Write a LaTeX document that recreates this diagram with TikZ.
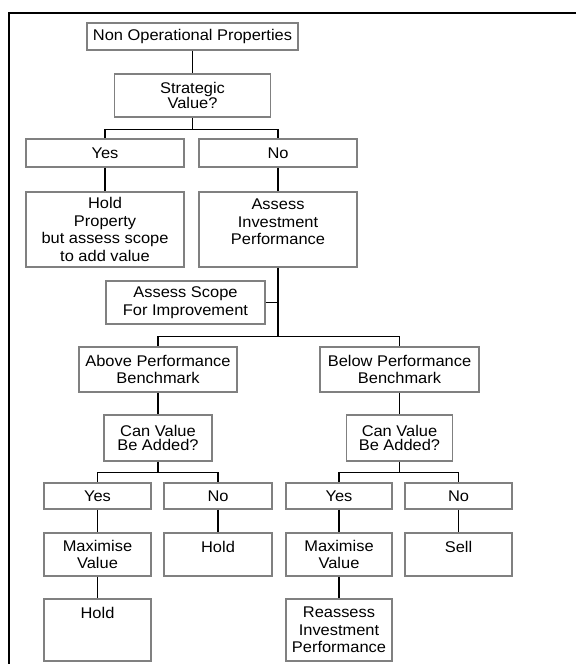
\documentclass[tikz,border=0pt]{standalone}
\usepackage{fontspec}
\setmainfont{Liberation Sans}[FakeStretch=1.06]
\usepackage{xcolor}
\definecolor{BG}{RGB}{128,128,128}

\begin{document}
\begin{tikzpicture}[x=1pt, y=-1pt,
  bx/.style 2 args={draw=BG, line width=1.2pt, inner sep=0pt, align=center,
    minimum width=#1, minimum height=#2,
    font=\fontsize{15.5}{17.5}\selectfont},
  tp/.style 2 args={text height=#1, text depth=#2},
  tight/.style={font=\fontsize{15.5}{14.5}\selectfont},
  ln/.style={draw=black, line width=1.2pt}
]
\useasboundingbox (0,0) rectangle (576,664);
\draw[line width=2pt] (576,13) -- (9,13) -- (9,664);

\node[bx={211}{27}] (nop) at (192.5,36.5) {Non Operational Properties};
\node[bx={156}{43}, tight] (sv) at (192.5,95.5) {Strategic\\Value?};
\node[bx={158}{28}] (yes1) at (105,153) {Yes};
\node[bx={158}{28}] (no1) at (278,153) {No};
\node[bx={158}{75}] (hp) at (105,229.5) {Hold\\Property\\but assess scope\\to add value};
\node[bx={158}{75}, tp={52.5pt}{22.5pt}] (aip) at (278,229.5) {Assess\\Investment\\Performance};
\node[bx={159}{43}] (scope) at (185.5,302.5) {Assess Scope\\For Improvement};
\node[bx={158}{45}] (above) at (158,369.5) {Above Performance\\Benchmark};
\node[bx={159}{45}] (below) at (399.5,369.5) {Below Performance\\Benchmark};
\node[bx={108}{46}, tight] (cva) at (158,438) {Can Value\\Be Added?};
\node[bx={106}{46}, tight] (cvb) at (399.5,438) {Can Value\\Be Added?};
\node[bx={107}{26}] (yesa) at (97.5,496) {Yes};
\node[bx={108}{26}] (noa) at (218,496) {No};
\node[bx={106}{26}] (yesb) at (339,496) {Yes};
\node[bx={107}{26}] (nob) at (458.5,496) {No};
\node[bx={107}{43}] (maxa) at (97.5,554.5) {Maximise\\Value};
\node[bx={108}{43}, tp={19.5pt}{23.5pt}] (holda) at (218,554.5) {Hold};
\node[bx={106}{43}] (maxb) at (339,554.5) {Maximise\\Value};
\node[bx={107}{43}, tp={19.5pt}{23.5pt}] (sell) at (458.5,554.5) {Sell};
\node[bx={107}{62}, tp={19.5pt}{42.5pt}] (holdb) at (97.5,630) {Hold};
\node[bx={106}{62}, tp={53.5pt}{8.5pt}] (reas) at (339,630) {Reassess\\Investment\\Performance};

\draw[ln] (nop) -- (sv);
\draw[ln] (sv.south) -- ++(0,12) coordinate (j1) -| (yes1.north);
\draw[ln] (j1) -| (no1.north);
\draw[ln] (yes1) -- (hp);
\draw[ln] (no1) -- (aip);
\draw[ln] (aip.south) -- ++(0,69) coordinate (j2) -| (above.north);
\draw[ln] (j2) -| (below.north);
\draw[ln] (scope.east) -| (aip.south);
\draw[ln] (above) -- (cva);
\draw[ln] (below) -- (cvb);
\draw[ln] (cva.south) -- ++(0,11) coordinate (j3) -| (yesa.north);
\draw[ln] (j3) -| (noa.north);
\draw[ln] (cvb.south) -- ++(0,11) coordinate (j4) -| (yesb.north);
\draw[ln] (j4) -| (nob.north);
\draw[ln] (yesa) -- (maxa) -- (holdb);
\draw[ln] (noa) -- (holda);
\draw[ln] (yesb) -- (maxb) -- (reas);
\draw[ln] (nob) -- (sell);
\end{tikzpicture}
\end{document}
